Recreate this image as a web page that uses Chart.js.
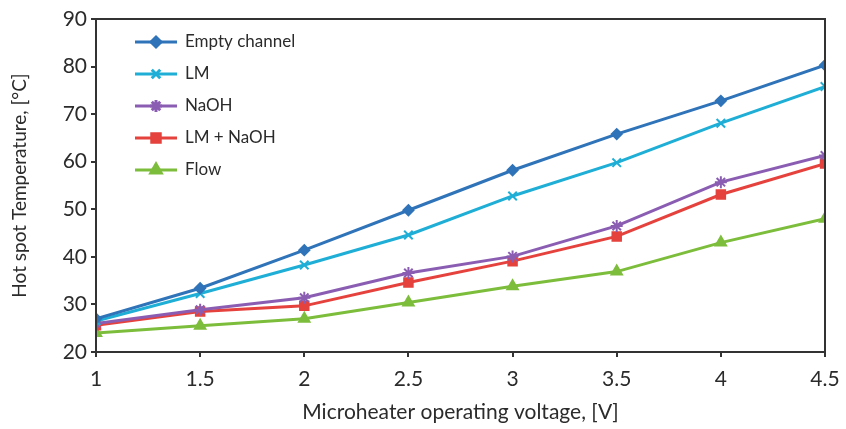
<!DOCTYPE html>
<html>
<head>
<meta charset="utf-8">
<script src="https://cdn.jsdelivr.net/npm/chart.js@4"></script>
<style>
  html, body { margin: 0; padding: 0; background: #fff; }
  #wrap { width: 846px; height: 429px; }
</style>
</head>
<body>
<div id="wrap"><canvas id="myChart" width="846" height="429"></canvas></div>
<script>
var voltages = [1, 1.5, 2, 2.5, 3, 3.5, 4, 4.5];
var emptyChannel = [27, 33.4, 41.4, 49.8, 58.2, 65.8, 72.8, 80.3];
var lm = [26.5, 32.3, 38.3, 44.6, 52.8, 59.8, 68.1, 75.8];
var naoh = [26, 28.9, 31.4, 36.6, 40.1, 46.5, 55.7, 61.3];
var lmNaoh = [25.6, 28.5, 29.7, 34.6, 39.1, 44.3, 53.1, 59.6];
var flow = [24, 25.5, 27, 30.4, 33.8, 36.9, 43, 48];
var yTicks = [20, 30, 40, 50, 60, 70, 80, 90];
var xTicks = [1, 1.5, 2, 2.5, 3, 3.5, 4, 4.5];

function pts(ys) {
	return voltages.map(function(v, i) { return { x: v, y: ys[i] }; });
}

function series(label, ys, color, style, radius) {
	return {
		label: label,
		data: pts(ys),
		borderColor: color,
		backgroundColor: color,
		borderWidth: 3,
		pointStyle: style,
		pointRadius: radius,
		pointBorderWidth: 2,
		tension: 0
	};
}

var font = 'Lato, "Open Sans", sans-serif';

// legend drawn inside the plot, like the original figure
var innerLegend = {
	id: 'innerLegend',
	afterDraw: function(chart) {
		var ctx = chart.ctx;
		var x0 = 135, y0 = 42, gap = 32;
		ctx.save();
		chart.data.datasets.forEach(function(ds, i) {
			var y = y0 + i * gap;
			ctx.strokeStyle = ds.borderColor;
			ctx.lineWidth = 3;
			ctx.beginPath();
			ctx.moveTo(x0, y);
			ctx.lineTo(x0 + 42, y);
			ctx.stroke();
			Chart.helpers.drawPoint(ctx, {
				pointStyle: ds.pointStyle, radius: ds.pointRadius, borderWidth: 2
			}, x0 + 21, y);
			ctx.fillStyle = ds.borderColor;
			ctx.fill();
			ctx.fillStyle = '#2b2b2b';
			ctx.font = '17px ' + font;
			ctx.textBaseline = 'middle';
			ctx.fillText(ds.label, x0 + 50, y);
		});
		// box around plot area
		var a = chart.chartArea;
		ctx.strokeStyle = '#333';
		ctx.lineWidth = 2;
		ctx.strokeRect(a.left, a.top, a.right - a.left, a.bottom - a.top);
		ctx.restore();
	}
};

var ctx = document.getElementById('myChart');
var myChart = new Chart(ctx, {
	type: 'line',
	data: {
		datasets: [
			series('Empty channel', emptyChannel, '#2f73b9', 'rectRot', 5),
			series('LM', lm, '#1eaed6', 'crossRot', 6),
			series('NaOH', naoh, '#8a5db3', 'star', 6),
			series('LM + NaOH', lmNaoh, '#e5423d', 'rect', 6),
			series('Flow', flow, '#7dbd3c', 'triangle', 6)
		]
	},
	plugins: [innerLegend],
	options: {
		responsive: false,
		animation: false,
		layout: { padding: { top: 19, right: 0, left: 4, bottom: 0 } },
		plugins: {
			legend: { display: false },
			tooltip: { enabled: false }
		},
		scales: {
			x: {
				type: 'linear',
				min: 1,
				max: 4.5,
				afterBuildTicks: function(axis) {
					axis.ticks = xTicks.map(function(v) { return { value: v }; });
				},
				afterFit: function(axis) {
					axis.height = 77;
					axis.paddingRight = 21;
				},
				grid: { drawOnChartArea: false, drawTicks: true, tickLength: 5, color: '#333', lineWidth: 2 },
				border: { color: '#333', width: 2 },
				ticks: {
					color: '#2b2b2b', font: { size: 21, family: font }, padding: 10, maxRotation: 0,
					callback: function(v) { return String(v); }
				},
				title: {
					display: true,
					text: 'Microheater operating voltage, [V]',
					color: '#2b2b2b',
					font: { size: 21, family: font },
					padding: { top: 0 }
				}
			},
			y: {
				min: 20,
				max: 90,
				afterBuildTicks: function(axis) {
					axis.ticks = yTicks.map(function(v) { return { value: v }; });
				},
				afterFit: function(axis) { axis.width = 92; },
				grid: { drawOnChartArea: false, drawTicks: true, tickLength: 5, color: '#333', lineWidth: 2 },
				border: { color: '#333', width: 2 },
				ticks: { color: '#2b2b2b', font: { size: 21, family: font }, padding: 4 },
				title: {
					display: true,
					text: 'Hot spot Temperature, [°C]',
					color: '#2b2b2b',
					font: { size: 19, family: font },
					padding: { bottom: 2 }
				}
			}
		}
	}
});
</script>
</body>
</html>
